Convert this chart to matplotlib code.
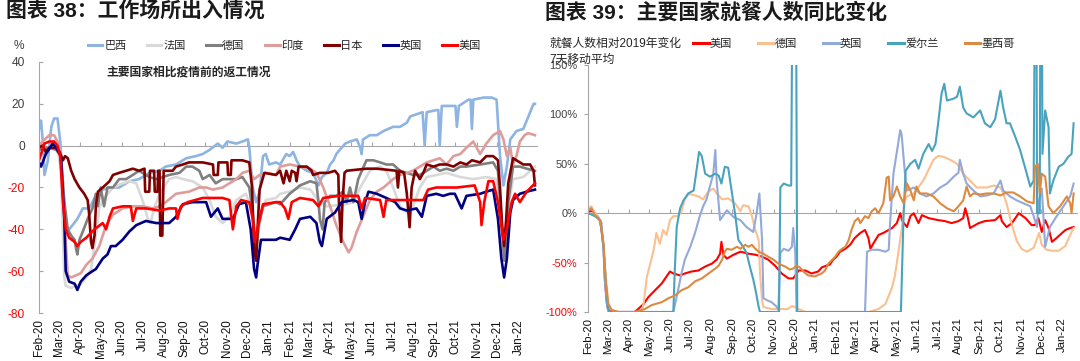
import matplotlib
matplotlib.use('Agg')
import matplotlib.pyplot as plt
import matplotlib.dates as mdates
from matplotlib.lines import Line2D
import pandas as pd

# all series are (days since 2020-02-15, value)
START = pd.Timestamp('2020-02-15')

# ---- 图表 38: workplace mobility, % vs baseline ----
work_brazil = [(0,8),(2,11),(3,12),(6,0),(8,-14),(13,-7),(18,9),(22,13),(27,13),(31,2),(35,-20),(39,-38),(44,-40),(49,-38),(56,-35),(64,-30),(73,-30),(83,-24),(93,-21),(103,-20),(117,-20),(132,-17),(146,-16),(161,-13),(176,-12),(185,-10),(200,-9),(215,-6),(229,-5),(239,-4),(249,-2),(261,1),(268,-1),(275,2),(288,1),(297,2),(305,3),(307,-1),(312,-20),(317,-27),(322,-22),(327,-5),(331,-4),(336,-9),(346,-8),(352,-9),(361,-4),(366,-5),(371,-3),(376,-7),(381,-10),(391,-12),(400,-13),(408,-19),(413,-15),(420,-13),(425,-9),(430,-7),(434,-4),(439,-2),(447,1),(454,2),(464,3),(469,-1),(471,-4),(473,3),(483,5),(493,5),(503,7),(517,9),(527,9),(537,11),(542,14),(560,16),(563,0),(566,16),(580,17),(583,17),(585,0),(588,19),(602,19),(608,19),(610,9),(613,19),(627,22),(630,22),(632,8),(634,22),(649,23),(661,23),(668,22),(673,-5),(678,-19),(683,-10),(688,3),(697,7),(707,8),(712,12),(722,20),(724,20)]
work_france = [(0,-2),(27,-1),(32,-12),(35,-43),(37,-63),(39,-67),(47,-68),(54,-67),(61,-66),(69,-63),(76,-59),(83,-43),(88,-30),(93,-26),(108,-20),(122,-18),(132,-17),(142,-18),(151,-26),(159,-35),(163,-37),(168,-30),(176,-23),(190,-16),(200,-15),(210,-16),(224,-17),(239,-20),(249,-26),(258,-34),(268,-37),(278,-34),(288,-26),(302,-23),(312,-32),(317,-48),(322,-35),(331,-26),(346,-25),(352,-23),(366,-22),(381,-20),(396,-21),(410,-27),(420,-29),(449,-28),(459,-27),(469,-20),(483,-12),(498,-10),(507,-12),(517,-20),(527,-29),(537,-32),(546,-29),(556,-20),(566,-15),(580,-14),(595,-13),(615,-15),(634,-16),(653,-15),(668,-16),(675,-35),(680,-51),(685,-29),(692,-16),(707,-15),(724,-10)]
work_germany = [(0,-2),(15,-1),(25,-2),(32,-5),(37,-27),(42,-40),(47,-43),(52,-45),(54,-49),(56,-52),(59,-45),(64,-41),(71,-35),(78,-30),(83,-23),(86,-29),(90,-20),(95,-29),(100,-20),(108,-20),(117,-16),(127,-16),(137,-14),(146,-12),(161,-15),(171,-16),(181,-15),(190,-14),(205,-13),(215,-10),(224,-10),(234,-12),(239,-16),(249,-14),(258,-18),(268,-16),(288,-16),(297,-15),(307,-20),(312,-32),(317,-51),(321,-38),(327,-29),(336,-28),(346,-27),(352,-28),(366,-23),(381,-19),(396,-17),(405,-18),(408,-27),(410,-35),(414,-40),(417,-27),(425,-24),(434,-24),(444,-22),(449,-27),(454,-20),(459,-27),(466,-16),(478,-7),(488,-7),(498,-8),(507,-9),(517,-9),(527,-12),(537,-13),(546,-14),(556,-14),(566,-12),(576,-10),(585,-12),(595,-11),(605,-12),(615,-10),(624,-10),(644,-9),(663,-8),(670,-12),(675,-35),(679,-55),(683,-45),(685,-27),(692,-10),(702,-10),(712,-11),(724,-12)]
work_india = [(0,0),(5,2),(15,5),(22,5),(27,2),(32,-5),(37,-35),(42,-62),(47,-63),(54,-62),(61,-61),(69,-57),(78,-54),(88,-48),(98,-38),(108,-33),(122,-30),(137,-29),(151,-29),(166,-30),(176,-29),(185,-27),(200,-23),(219,-22),(234,-20),(244,-20),(254,-21),(268,-20),(278,-18),(288,-16),(297,-13),(307,-12),(314,-16),(322,-14),(331,-13),(346,-14),(352,-10),(366,-9),(381,-10),(396,-11),(405,-13),(415,-20),(425,-29),(434,-38),(444,-46),(452,-51),(456,-49),(464,-41),(473,-34),(483,-26),(493,-22),(503,-20),(517,-16),(527,-14),(537,-13),(546,-12),(556,-10),(566,-8),(576,-7),(585,-6),(595,-9),(605,-5),(615,-4),(624,-1),(634,2),(644,-4),(653,1),(663,5),(673,7),(678,3),(683,-5),(688,-1),(692,-9),(697,-5),(702,2),(709,5),(714,6),(724,5)]
work_japan = [(0,-1),(5,0),(10,-3),(15,-1),(25,-1),(30,-3),(35,-7),(38,-5),(42,-6),(47,-12),(52,-16),(59,-20),(66,-23),(71,-26),(73,-32),(76,-46),(78,-49),(81,-43),(83,-29),(86,-22),(93,-20),(103,-17),(108,-14),(117,-13),(127,-12),(137,-11),(146,-12),(154,-11),(155,-22),(161,-22),(162,-12),(168,-12),(169,-22),(173,-22),(174,-12),(176,-12),(177,-43),(180,-43),(182,-12),(195,-12),(200,-10),(210,-9),(219,-8),(239,-8),(254,-9),(255,-14),(261,-14),(262,-8),(275,-8),(276,-14),(280,-14),(281,-7),(297,-7),(307,-8),(311,-20),(314,-50),(317,-55),(319,-40),(322,-21),(329,-13),(346,-14),(352,-12),(357,-18),(361,-12),(366,-17),(369,-12),(374,-13),(376,-17),(379,-10),(391,-10),(398,-12),(400,-14),(410,-13),(422,-13),(432,-12),(437,-14),(438,-29),(441,-46),(443,-27),(446,-13),(449,-12),(478,-11),(493,-11),(522,-12),(524,-20),(526,-12),(533,-13),(537,-23),(541,-39),(544,-20),(549,-12),(556,-16),(561,-13),(566,-9),(576,-10),(585,-9),(595,-9),(605,-10),(615,-8),(624,-9),(632,-7),(644,-8),(653,-5),(663,-5),(670,-7),(673,-20),(676,-38),(679,-48),(682,-35),(685,-18),(692,-6),(697,-7),(707,-9),(717,-9),(722,-12),(724,-19)]
work_uk = [(0,-8),(3,-10),(10,-4),(18,0),(20,1),(25,-1),(32,-5),(37,-35),(39,-60),(44,-65),(52,-66),(56,-69),(61,-65),(69,-62),(78,-60),(83,-59),(93,-54),(100,-52),(105,-48),(112,-48),(122,-45),(132,-41),(142,-38),(156,-36),(171,-37),(190,-37),(200,-34),(210,-28),(224,-27),(244,-27),(251,-34),(261,-30),(268,-35),(283,-35),(292,-28),(302,-27),(309,-40),(314,-59),(317,-63),(319,-57),(324,-45),(336,-45),(346,-45),(352,-44),(366,-45),(374,-40),(381,-35),(396,-34),(405,-37),(410,-46),(413,-48),(420,-35),(432,-32),(442,-27),(459,-26),(466,-27),(471,-35),(476,-27),(481,-22),(493,-23),(507,-25),(520,-27),(527,-30),(537,-31),(551,-30),(559,-34),(566,-24),(580,-23),(590,-24),(600,-23),(607,-23),(617,-30),(624,-24),(644,-23),(653,-22),(663,-21),(670,-35),(675,-54),(679,-63),(683,-54),(688,-32),(692,-26),(702,-23),(712,-22),(724,-21)]
work_us = [(0,-7),(3,-4),(8,1),(15,2),(22,2),(27,0),(31,-5),(35,-27),(39,-40),(44,-44),(52,-46),(56,-48),(61,-46),(69,-44),(81,-40),(93,-37),(98,-40),(103,-34),(108,-30),(122,-29),(134,-29),(137,-36),(142,-30),(156,-30),(176,-31),(190,-30),(200,-30),(202,-35),(207,-29),(217,-27),(239,-25),(268,-25),(278,-26),(283,-40),(288,-29),(295,-26),(307,-27),(312,-35),(315,-46),(322,-35),(327,-28),(346,-27),(352,-27),(359,-30),(364,-35),(369,-27),(381,-25),(400,-26),(408,-29),(415,-25),(437,-24),(466,-24),(471,-30),(476,-25),(498,-26),(503,-34),(507,-26),(546,-26),(561,-26),(568,-21),(580,-20),(610,-20),(636,-19),(644,-27),(646,-38),(650,-27),(656,-17),(663,-17),(670,-27),(678,-45),(683,-40),(690,-27),(695,-23),(702,-27),(712,-22),(724,-18)]

work_names = ['巴西', '法国', '德国', '印度', '日本', '英国', '美国']
work_colors = ['#8DB4E2', '#D9D9D9', '#7F7F7F', '#DE9C9A', '#800000', '#000080', '#FF0000']
work_series = [work_brazil, work_france, work_germany, work_india, work_japan, work_uk, work_us]
work_yticks = [-80, -60, -40, -20, 0, 20, 40]

# ---- 图表 39: seated diners vs 2019, %, 7-day average ----
dine_us = [(1,2),(8,2),(13,-3),(18,-8),(20,-17),(23,-34),(25,-68),(28,-92),(30,-98),(35,-100),(69,-100),(74,-97),(82,-92),(89,-85),(99,-78),(109,-71),(116,-64),(121,-59),(126,-61),(136,-63),(143,-61),(153,-59),(163,-58),(173,-54),(183,-51),(190,-47),(195,-41),(197,-29),(200,-42),(205,-46),(215,-42),(225,-39),(237,-41),(247,-42),(257,-44),(266,-47),(276,-53),(286,-61),(296,-66),(303,-66),(311,-58),(321,-58),(330,-61),(340,-59),(345,-55),(352,-53),(357,-52),(362,-47),(367,-44),(372,-39),(380,-36),(387,-32),(394,-25),(402,-20),(409,-17),(414,-25),(417,-36),(421,-31),(429,-22),(436,-20),(444,-17),(449,-15),(456,-10),(461,0),(464,-8),(471,-14),(476,-3),(481,0),(488,-10),(493,-2),(503,-5),(517,-7),(527,-8),(537,-10),(547,-8),(554,-5),(557,5),(561,-5),(564,-15),(577,-10),(586,-8),(601,-7),(609,-2),(611,-8),(618,-14),(626,-10),(636,0),(646,-5),(655,-12),(660,-12),(665,-5),(670,-19),(675,-7),(680,-15),(685,-29),(692,-25),(700,-20),(705,-17),(712,-15),(717,-14)]
dine_de = [(1,5),(5,7),(10,0),(15,-3),(20,-14),(25,-54),(30,-92),(35,-98),(45,-100),(79,-100),(82,-92),(87,-64),(92,-51),(97,-37),(101,-20),(106,-31),(111,-17),(116,-22),(121,-7),(126,-3),(133,-3),(138,2),(143,14),(148,19),(153,19),(163,17),(170,14),(178,22),(185,25),(190,20),(198,14),(207,15),(217,10),(225,2),(229,8),(237,7),(242,-3),(247,-17),(252,-27),(254,-61),(257,-88),(259,-95),(271,-97),(295,-97),(301,-94),(306,-95),(311,-97),(321,-100),(414,-100),(429,-97),(439,-92),(449,-75),(453,-64),(458,-41),(463,-17),(468,14),(471,17),(481,20),(495,33),(510,54),(517,58),(525,57),(535,54),(545,50),(554,40),(564,33),(574,26),(589,26),(599,28),(609,26),(612,22),(618,10),(624,-7),(633,-28),(640,-36),(648,-39),(658,-35),(666,-20),(670,-32),(677,-37),(685,-38),(695,-38),(705,-33),(712,-22),(717,-15)]
dine_uk = [(1,0),(10,-2),(15,-4),(20,-10),(23,-40),(25,-70),(28,-92),(30,-100),(126,-100),(133,-78),(138,-61),(143,-47),(151,-34),(158,-20),(165,-3),(170,7),(175,14),(180,27),(185,40),(188,64),(190,33),(195,-7),(205,3),(215,-4),(225,-7),(234,-14),(244,-19),(249,0),(253,20),(257,-27),(259,-86),(264,-88),(271,-90),(279,-95),(281,-98),(284,-40),(289,-36),(296,-38),(301,-34),(303,-15),(306,-40),(308,-100),(409,-100),(412,-39),(419,-37),(429,-37),(439,-39),(444,-37),(446,-10),(451,40),(461,84),(463,80),(468,40),(471,23),(481,26),(490,20),(500,17),(510,20),(520,26),(530,30),(540,37),(547,41),(549,54),(554,40),(559,30),(569,23),(579,17),(589,18),(599,20),(609,33),(613,23),(623,17),(633,13),(643,10),(653,7),(658,-3),(663,-14),(665,10),(670,25),(675,-34),(682,-14),(692,-3),(702,7),(712,17),(717,30)]
dine_ie = [(1,0),(10,-3),(18,-7),(23,-34),(28,-88),(30,-97),(32,-100),(126,-100),(128,-60),(131,-14),(136,5),(141,13),(148,20),(156,23),(161,47),(164,62),(168,58),(173,40),(180,37),(188,40),(193,38),(197,30),(202,47),(207,46),(212,23),(217,0),(222,-27),(229,-34),(234,-40),(239,-54),(244,-67),(248,-80),(252,-95),(254,-100),(282,-100),(284,26),(289,30),(296,28),(300,28),(302,250),(307,250),(309,-100),(462,-100),(466,0),(469,43),(476,50),(483,54),(488,45),(495,60),(503,70),(508,63),(513,70),(517,91),(522,121),(526,131),(530,114),(540,116),(545,118),(549,128),(554,107),(559,101),(569,97),(579,104),(586,91),(594,87),(601,95),(609,124),(613,107),(618,91),(623,91),(631,77),(638,64),(645,47),(653,27),(658,33),(660,250),(662,250),(663,0),(667,0),(668,250),(670,250),(671,60),(675,104),(680,87),(682,20),(687,33),(695,47),(702,50),(709,57),(714,60),(717,91)]
dine_mx = [(1,3),(5,5),(10,-2),(18,-7),(23,-31),(26,-68),(30,-92),(35,-98),(45,-100),(69,-100),(74,-99),(84,-97),(94,-93),(109,-90),(119,-86),(129,-83),(138,-78),(148,-75),(158,-69),(168,-66),(178,-61),(188,-56),(193,-53),(198,-47),(202,-39),(205,-36),(212,-37),(220,-34),(225,-36),(232,-32),(237,-34),(242,-32),(247,-36),(252,-39),(259,-41),(266,-44),(274,-47),(281,-51),(291,-54),(298,-57),(303,-56),(308,-53),(313,-55),(318,-59),(325,-63),(335,-64),(345,-61),(350,-58),(355,-51),(365,-44),(370,-39),(375,-36),(380,-34),(385,-27),(389,-17),(394,-8),(399,-5),(402,-10),(409,-3),(414,-5),(419,2),(424,5),(429,0),(436,10),(441,36),(444,37),(446,13),(451,17),(456,27),(461,17),(466,10),(471,30),(476,23),(481,13),(485,27),(490,20),(500,20),(510,17),(520,10),(530,5),(540,2),(547,7),(554,13),(559,27),(564,17),(569,20),(579,19),(589,20),(599,20),(609,18),(618,21),(628,21),(638,17),(648,12),(658,10),(660,47),(664,50),(667,20),(670,40),(675,37),(680,7),(687,0),(697,7),(707,17),(712,10),(714,0),(717,20)]

dine_names = ['美国', '德国', '英国', '爱尔兰', '墨西哥']
dine_colors = ['#FF0000', '#FAC090', '#93A9D9', '#4AA3BE', '#DC8A42']
dine_series = [dine_us, dine_de, dine_uk, dine_ie, dine_mx]
dine_yticks = [-100, -50, 0, 50, 100, 150]


def unpack(pairs):
    days, vals = zip(*pairs)
    return START + pd.to_timedelta(list(days), unit='D'), list(vals)


plt.rcParams['font.family'] = ['Liberation Sans', 'Noto Sans CJK SC', 'DejaVu Sans']
GRAY = '#A6A6A6'
TXT = '#262626'

fig = plt.figure(figsize=(10.8, 3.61), dpi=100)
ax1 = fig.add_axes([39 / 1080, 48 / 361, 498 / 1080, 251 / 361])
ax2 = fig.add_axes([588 / 1080, 49 / 361, 489 / 1080, 247 / 361])

month_ticks = pd.date_range('2020-02-01', '2022-01-01', freq='MS') + pd.Timedelta(days=14)
month_labels = [t.strftime('%b-%y') for t in month_ticks]


def setup(ax, ymin, ymax, yticks, ylabels, xend, ysize, xsize, xpad, ydir, ypad):
    ax.set_xlim(START, START + pd.Timedelta(days=xend))
    ax.set_ylim(ymin, ymax)
    for s in ('top', 'right', 'bottom'):
        ax.spines[s].set_visible(False)
    ax.spines['left'].set_color(GRAY)
    ax.spines['left'].set_linewidth(0.8)
    ax.set_yticks(yticks)
    ax.set_yticklabels(ylabels)
    ax.tick_params(axis='y', direction=ydir, length=3, color=GRAY, pad=ypad,
                   labelsize=ysize)
    for v, t in zip(yticks, ax.get_yticklabels()):
        t.set_color('#FF0000' if v < 0 else '#404040')
    ax.set_xticks(month_ticks)
    ax.set_xticklabels(month_labels, rotation=90)
    ax.tick_params(axis='x', length=0, pad=xpad, labelsize=xsize,
                   labelcolor='#111111')
    # horizontal axis line at zero with small upward ticks
    zero = ax.secondary_xaxis(0, transform=ax.transData)
    zero.set_xticks(mdates.date2num(month_ticks))
    zero.tick_params(direction='in', length=3, width=0.8, color=GRAY,
                     labelbottom=False, labeltop=False)
    for sp in zero.spines.values():
        sp.set_color(GRAY)
        sp.set_linewidth(0.8)


setup(ax1, -80, 40, work_yticks, [str(v) for v in work_yticks], 727,
      8.6, 8.4, 4.5, 'in', 10)
setup(ax2, -100, 150, dine_yticks, [f'{v}%' for v in dine_yticks], 722,
      7.9, 8.2, 4, 'out', 4.5)

for pairs, c in zip(work_series, work_colors):
    x, y = unpack(pairs)
    ax1.plot(x, y, color=c, lw=1.9, solid_joinstyle='round')

for pairs, c in zip(dine_series, dine_colors):
    x, y = unpack(pairs)
    ax2.plot(x, y, color=c, lw=1.5, solid_joinstyle='round')

# legends
h1 = [Line2D([], [], color=c, lw=2.2) for c in work_colors]
fig.legend(h1, work_names, loc='center left', bbox_to_anchor=(88 / 1080, 1 - 46 / 361),
           ncol=7, frameon=False, fontsize=8, handlelength=1.3, handletextpad=0.15,
           columnspacing=1.86, borderpad=0, borderaxespad=0, labelcolor=TXT)
h2 = [Line2D([], [], color=c, lw=2.2) for c in dine_colors]
fig.legend(h2, dine_names, loc='center left', bbox_to_anchor=(693 / 1080, 1 - 44 / 361),
           ncol=5, frameon=False, fontsize=8, handlelength=1.4, handletextpad=0.1,
           columnspacing=2.36, borderpad=0, borderaxespad=0, labelcolor=TXT)

# titles and notes
fig.text(6 / 1080, 1 - 12 / 361, '图表 38：工作场所出入情况', fontsize=15,
         fontweight='bold', va='center', ha='left', color='#1A1A1A')
fig.text(545 / 1080, 1 - 12 / 361, '图表 39：主要国家就餐人数同比变化', fontsize=15,
         fontweight='bold', va='center', ha='left', color='#1A1A1A')
fig.text(14 / 1080, 1 - 46 / 361, '%', fontsize=8.6, color='#404040', va='center')
fig.text(189 / 1080, 1 - 72 / 361, '主要国家相比疫情前的返工情况', fontsize=8.5,
         fontweight='bold', ha='center', va='center', color=TXT)
fig.text(549 / 1080, 1 - 44 / 361, '就餐人数相对2019年变化', fontsize=8.5,
         va='center', color=TXT)
fig.text(549 / 1080, 1 - 60 / 361, '7天移动平均', fontsize=8.5, va='center', color=TXT)

fig.savefig('out.png', dpi=100)
